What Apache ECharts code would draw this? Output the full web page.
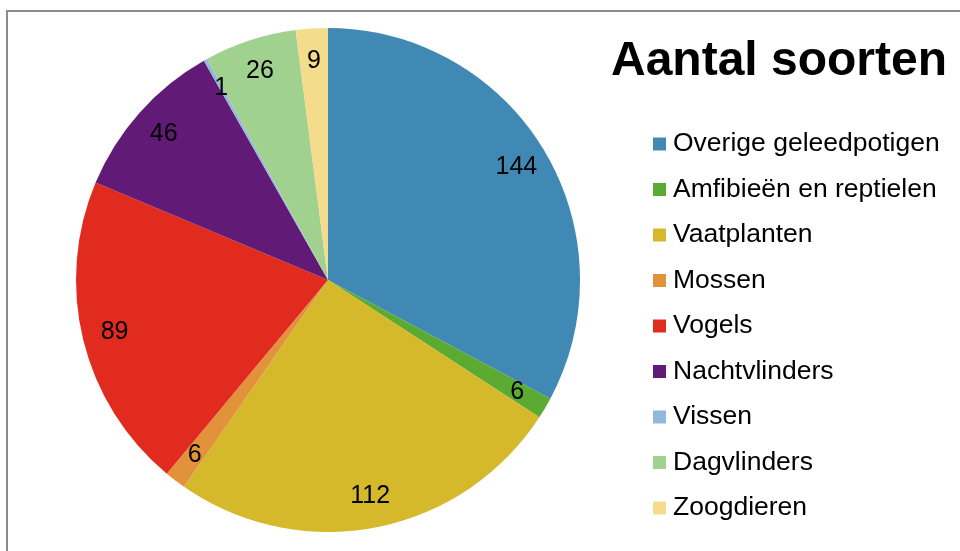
<!DOCTYPE html>
<html><head><meta charset="utf-8">
<script src="https://cdn.jsdelivr.net/npm/echarts@6/dist/echarts.min.js"></script>
<style>html,body{margin:0;padding:0;background:#fff}#c{width:960px;height:551px}</style>
</head><body><div id="c"></div>
<script>
const categories = ["Overige geleedpotigen","Amfibieën en reptielen","Vaatplanten","Mossen","Vogels","Nachtvlinders","Vissen","Dagvlinders","Zoogdieren"];
const values = [144, 6, 112, 6, 89, 46, 1, 26, 9];
const colors = ["#4189B5","#5BAA32","#D5B92A","#E2923A","#E22B1F","#611B77","#92B9DB","#A1D18E","#F3DC8C"];
const FONT = "Liberation Sans, Arial, sans-serif";
const data = categories.map((n,i)=>({name:n, value:values[i], itemStyle:{color:colors[i]}}));
const R = 252;
const chart = echarts.init(document.getElementById('c'), null, {renderer:'canvas'});
chart.setOption({
  animation:false,
  color: colors,
  title:{text:'Aantal soorten', left:606, top:33, textStyle:{fontFamily:FONT, fontSize:48, fontWeight:'bold', color:'#000'}},
  legend:{orient:'vertical', left:648, top:124, itemWidth:13, itemHeight:13, itemGap:15.5, icon:'rect',
    data: categories,
    textStyle:{fontFamily:FONT, fontSize:26.5, lineHeight:30, color:'#000', padding:[0,0,0,2]}},
  graphic:[{type:'rect', shape:{x:7,y:11,width:1000,height:600}, style:{fill:'none', stroke:'#8c8c8c', lineWidth:2}, silent:true}],
  series:[
    {type:'pie', center:[328,280], radius:[0,R], startAngle:90, clockwise:true, label:{show:false}, labelLine:{show:false},
     itemStyle:{borderWidth:0}, data:data, emphasis:{disabled:true}},
    {type:'pie', center:[328,280], radius:[R*0.72,R], startAngle:90, clockwise:true, silent:true,
     itemStyle:{color:'rgba(0,0,0,0)', borderWidth:0}, legendHoverLink:false,
     label:{show:true, position:'inside', formatter:'{c}', fontFamily:FONT, fontSize:25, color:'#000'},
     labelLine:{show:false},
     data: categories.map((n,i)=>({name:n+' ', value:values[i]})), emphasis:{disabled:true}}
  ]
});
</script></body></html>
